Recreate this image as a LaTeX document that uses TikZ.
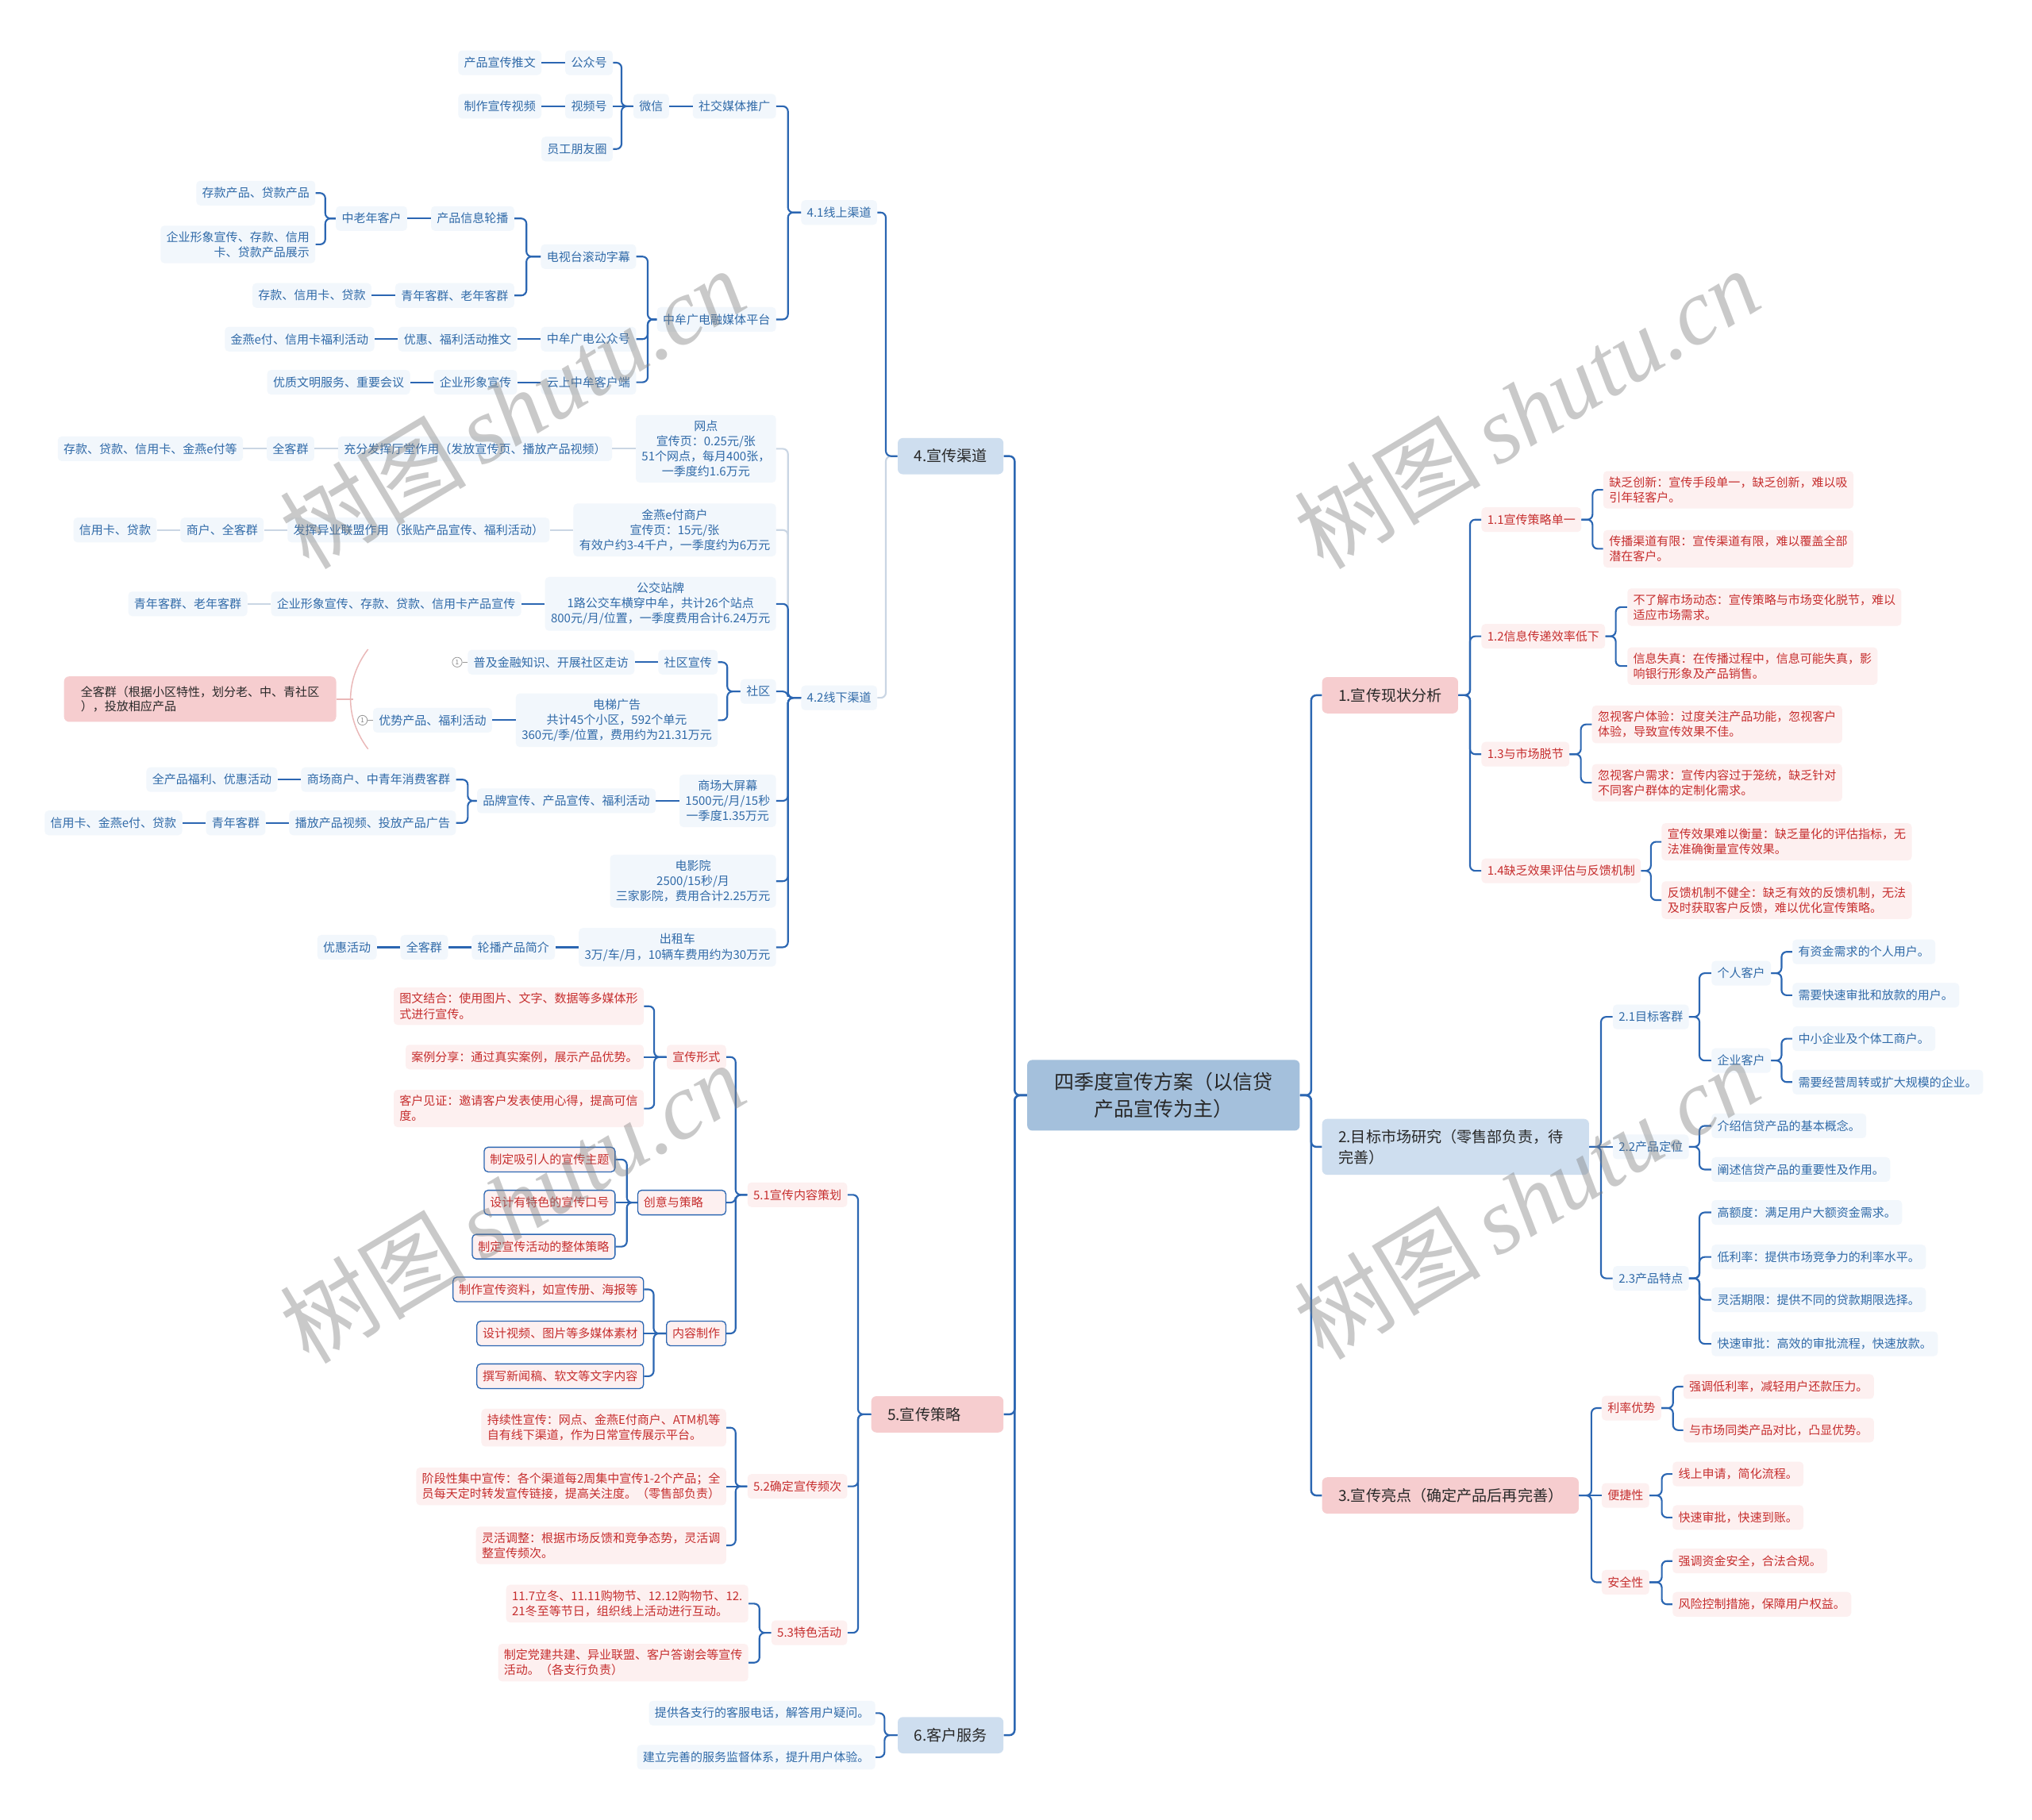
\documentclass[tikz,border=0pt]{standalone}
\usepackage{fontspec}
\setmainfont{Noto Sans CJK SC}
\newfontfamily\wmfont{Liberation Serif}
\usetikzlibrary{positioning}

\definecolor{lnblue}{RGB}{43,102,178}
\definecolor{lnpale}{RGB}{202,214,228}
\definecolor{txblue}{RGB}{48,106,168}
\definecolor{txred}{RGB}{198,46,46}
\definecolor{fiblue}{RGB}{242,247,252}
\definecolor{fired}{RGB}{253,240,240}
\definecolor{lvblue}{RGB}{206,222,239}
\definecolor{lvred}{RGB}{246,205,207}
\definecolor{rootc}{RGB}{164,192,220}
\definecolor{sumln}{RGB}{234,184,184}
\definecolor{txdark}{RGB}{40,40,40}

\tikzset{
  leaf/.style={rounded corners=3pt,inner xsep=4.5pt,inner ysep=4.3pt,
    minimum height=19pt,align=left,font=\fontsize{9.2}{11.7}\selectfont},
  bn/.style={leaf,fill=fiblue,text=txblue},
  rn/.style={leaf,fill=fired,text=txred},
  ro/.style={rn,draw=lnblue,line width=.8pt},
  lvl/.style={rounded corners=4pt,inner xsep=12.5pt,inner ysep=8pt,
    minimum height=28pt,align=left,text=txdark,font=\fontsize{11.7}{16}\selectfont},
  lvb/.style={lvl,fill=lvblue},
  lvr/.style={lvl,fill=lvred},
  topic/.style={rounded corners=4pt,fill=rootc,inner xsep=21pt,inner ysep=9.8pt,
    align=center,text=txdark,font=\fontsize{15.3}{20.4}\selectfont},
  sumbox/.style={rounded corners=4pt,fill=lvred,text=txdark,align=left,
    inner xsep=13pt,inner ysep=7.5pt,font=\fontsize{9.2}{11.2}\selectfont},
  numc/.style={circle,draw=gray!80,line width=.5pt,inner sep=0pt,minimum size=7.5pt,
    text=gray,font=\fontsize{5}{5}\selectfont},
  numl/.style={draw=gray!80,line width=.6pt},
  sumcurve/.style={draw=sumln,line width=.9pt},
  L/.style={anchor=east},
  R/.style={anchor=west},
  br/.style={to path={-- ++(#1,0) |- (\tikztotarget)}},
  ln/.style={draw=lnblue,line width=1.3pt,rounded corners=4pt},
  lp/.style={draw=lnpale,line width=1.3pt,rounded corners=4pt},
  wmark/.style={rotate=31,text=black!50,text opacity=.42,
    font=\fontsize{72}{80}\selectfont}
}

\begin{document}
\begin{tikzpicture}[x=1pt,y=-1pt]
  \fill[white] (0,0) rectangle (1568,1404);
  \useasboundingbox (0,0) rectangle (1568,1404);

  \node[topic] (root) at (897.8,845.2) {四季度宣传方案（以信贷\\产品宣传为主）};

  \node[lvr,R] (n1) at (1020,536.5) {1.宣传现状分析};
  \node[lvb,R,text width=181pt] (n2) at (1020,885) {2.目标市场研究（零售部负责，待\\完善）};
  \node[lvr,R,text width=173pt] (n3) at (1020,1154) {3.宣传亮点（确定产品后再完善）};
  \node[lvb,L] (n4) at (774.5,352) {4.宣传渠道};
  \node[lvr,L,text width=77pt] (n5) at (774.5,1091.4) {5.宣传策略};
  \node[lvb,L] (n6) at (774.5,1339) {6.客户服务};

  \node[bn,L] (n41) at (677,164) {4.1线上渠道};
  \node[bn,L] (n42) at (677,538.5) {4.2线下渠道};
  \node[bn,L] (n411) at (599,82) {社交媒体推广};
  \node[bn,left=18pt of n411] (n4111) {微信};
  \node[bn,L] (n41111) at (473,48.4) {公众号};
  \node[bn,L] (n41112) at (473,82) {视频号};
  \node[bn,L] (n41113) at (473,115) {员工朋友圈};
  \node[bn,left=18pt of n41111] (n411111) {产品宣传推文};
  \node[bn,left=18pt of n41112] (n411121) {制作宣传视频};
  \node[bn,L] (n412) at (599,246.5) {中牟广电融媒体平台};
  \node[bn,L] (n4121) at (491,198) {电视台滚动字幕};
  \node[bn,L] (n4122) at (491,261.7) {中牟广电公众号};
  \node[bn,L] (n4123) at (491,295) {云上中牟客户端};
  \node[bn,L] (n41211) at (397,168.6) {产品信息轮播};
  \node[bn,L] (n41212) at (397,228) {青年客群、老年客群};
  \node[bn,left=18pt of n41211] (n412111) {中老年客户};
  \node[bn,L] (n4121111) at (243.5,149) {存款产品、贷款产品};
  \node[bn,L,align=right] (n4121112) at (243.5,188.6) {企业形象宣传、存款、信用\\卡、贷款产品展示};
  \node[bn,left=18pt of n41212] (n412121) {存款、信用卡、贷款};
  \node[bn,left=18pt of n4122] (n41221) {优惠、福利活动推文};
  \node[bn,left=18pt of n41221] (n412211) {金燕e付、信用卡福利活动};
  \node[bn,left=18pt of n4123] (n41231) {企业形象宣传};
  \node[bn,left=18pt of n41231] (n412311) {优质文明服务、重要会议};

  \node[bn,L,align=center] (n421) at (599,346.3) {网点\\宣传页：0.25元/张\\51个网点，每月400张，\\一季度约1.6万元};
  \node[bn,L,align=center] (n422) at (599,409) {金燕e付商户\\宣传页：15元/张\\有效户约3-4千户，一季度约为6万元};
  \node[bn,L,align=center] (n423) at (599,466) {公交站牌\\1路公交车横穿中牟，共计26个站点\\800元/月/位置，一季度费用合计6.24万元};
  \node[bn,L] (n424) at (599,533.6) {社区};
  \node[bn,L,align=center] (n425) at (599,618) {商场大屏幕\\1500元/月/15秒\\一季度1.35万元};
  \node[bn,L,align=center] (n426) at (599,680) {电影院\\2500/15秒/月\\三家影院，费用合计2.25万元};
  \node[bn,L,align=center] (n427) at (599,731) {出租车\\3万/车/月，10辆车费用约为30万元};
  \node[bn,left=18pt of n421] (n4211) {充分发挥厅堂作用（发放宣传页、播放产品视频）};
  \node[bn,left=18pt of n4211] (n42111) {全客群};
  \node[bn,left=18pt of n42111] (n421111) {存款、贷款、信用卡、金燕e付等};
  \node[bn,left=18pt of n422] (n4221) {发挥异业联盟作用（张贴产品宣传、福利活动）};
  \node[bn,left=18pt of n4221] (n42211) {商户、全客群};
  \node[bn,left=18pt of n42211] (n422111) {信用卡、贷款};
  \node[bn,left=18pt of n423] (n4231) {企业形象宣传、存款、贷款、信用卡产品宣传};
  \node[bn,left=18pt of n4231] (n42311) {青年客群、老年客群};
  \node[bn,L] (n4241) at (554,511) {社区宣传};
  \node[bn,L,align=center] (n4242) at (554,555.8) {电梯广告\\共计45个小区，592个单元\\360元/季/位置，费用约为21.31万元};
  \node[bn,left=18pt of n4241] (n42411) {普及金融知识、开展社区走访};
  \node[bn,left=18pt of n4242] (n42421) {优势产品、福利活动};
  \node[numc,left=4pt of n42411] (m1) {1};
  \node[numc,left=4pt of n42421] (m2) {1};
  \node[sumbox,L] (s1) at (259.6,539.5) {全客群（根据小区特性，划分老、中、青社区\\），投放相应产品};
  \coordinate (bt) at (284,501);
  \coordinate (bm) at (272.5,539.5);
  \coordinate (bb) at (284,578);
  \node[bn,left=18pt of n425] (n4251) {品牌宣传、产品宣传、福利活动};
  \node[bn,L] (n42511) at (352,601.6) {商场商户、中青年消费客群};
  \node[bn,L] (n42512) at (352,635) {播放产品视频、投放产品广告};
  \node[bn,left=18pt of n42511] (n425111) {全产品福利、优惠活动};
  \node[bn,left=18pt of n42512] (n425121) {青年客群};
  \node[bn,left=18pt of n425121] (n4251211) {信用卡、金燕e付、贷款};
  \node[bn,left=18pt of n427] (n4271) {轮播产品简介};
  \node[bn,left=18pt of n4271] (n42711) {全客群};
  \node[bn,left=18pt of n42711] (n427111) {优惠活动};

  \node[rn,L] (n51) at (654,922) {5.1宣传内容策划};
  \node[rn,L] (n52) at (654,1147) {5.2确定宣传频次};
  \node[rn,L] (n53) at (654,1260) {5.3特色活动};
  \node[rn,L] (n511) at (560.5,815.7) {宣传形式};
  \node[ro,L,text width=59pt] (n512) at (560.5,928) {创意与策略};
  \node[ro,L] (n513) at (560.5,1029) {内容制作};
  \node[rn,L] (n5111) at (497,776.5) {图文结合：使用图片、文字、数据等多媒体形\\式进行宣传。};
  \node[rn,L] (n5112) at (497,815.7) {案例分享：通过真实案例，展示产品优势。};
  \node[rn,L] (n5113) at (497,855.4) {客户见证：邀请客户发表使用心得，提高可信\\度。};
  \node[ro,L] (n5121) at (475,894.8) {制定吸引人的宣传主题};
  \node[ro,L] (n5122) at (475,928) {设计有特色的宣传口号};
  \node[ro,L] (n5123) at (475,962) {制定宣传活动的整体策略};
  \node[ro,L] (n5131) at (497,995) {制作宣传资料，如宣传册、海报等};
  \node[ro,L] (n5132) at (497,1029) {设计视频、图片等多媒体素材};
  \node[ro,L] (n5133) at (497,1062) {撰写新闻稿、软文等文字内容};
  \node[rn,L] (n521) at (560.5,1101.7) {持续性宣传：网点、金燕E付商户、ATM机等\\自有线下渠道，作为日常宣传展示平台。};
  \node[rn,L] (n522) at (560.5,1147) {阶段性集中宣传：各个渠道每2周集中宣传1-2个产品；全\\员每天定时转发宣传链接，提高关注度。（零售部负责）};
  \node[rn,L] (n523) at (560.5,1192.5) {灵活调整：根据市场反馈和竞争态势，灵活调\\整宣传频次。};
  \node[rn,L] (n531) at (577.6,1237.5) {11.7立冬、11.11购物节、12.12购物节、12.\\21冬至等节日，组织线上活动进行互动。};
  \node[rn,L] (n532) at (577.6,1283) {制定党建共建、异业联盟、客户答谢会等宣传\\活动。（各支行负责）};
  \node[bn,L] (n61) at (675.6,1322) {提供各支行的客服电话，解答用户疑问。};
  \node[bn,L] (n62) at (675.6,1356) {建立完善的服务监督体系，提升用户体验。};

  \node[rn,R] (n11) at (1143,401) {1.1宣传策略单一};
  \node[rn,R] (n12) at (1143,491) {1.2信息传递效率低下};
  \node[rn,R] (n13) at (1143,582) {1.3与市场脱节};
  \node[rn,R] (n14) at (1143,672) {1.4缺乏效果评估与反馈机制};
  \node[rn,R] (n111) at (1237,378) {缺乏创新：宣传手段单一，缺乏创新，难以吸\\引年轻客户。};
  \node[rn,R] (n112) at (1237,423.5) {传播渠道有限：宣传渠道有限，难以覆盖全部\\潜在客户。};
  \node[rn,R] (n121) at (1255.6,468.5) {不了解市场动态：宣传策略与市场变化脱节，难以\\适应市场需求。};
  \node[rn,R] (n122) at (1255.6,514) {信息失真：在传播过程中，信息可能失真，影\\响银行形象及产品销售。};
  \node[rn,R] (n131) at (1228.3,559) {忽视客户体验：过度关注产品功能，忽视客户\\体验，导致宣传效果不佳。};
  \node[rn,R] (n132) at (1228.3,604) {忽视客户需求：宣传内容过于笼统，缺乏针对\\不同客户群体的定制化需求。};
  \node[rn,R] (n141) at (1282,649.6) {宣传效果难以衡量：缺乏量化的评估指标，无\\法准确衡量宣传效果。};
  \node[rn,R] (n142) at (1282,694.6) {反馈机制不健全：缺乏有效的反馈机制，无法\\及时获取客户反馈，难以优化宣传策略。};

  \node[bn,R] (n21) at (1244.4,784.7) {2.1目标客群};
  \node[bn,R] (n22) at (1244.4,885) {2.2产品定位};
  \node[bn,R] (n23) at (1244.4,986.5) {2.3产品特点};
  \node[bn,R] (n211) at (1320.5,751) {个人客户};
  \node[bn,R] (n212) at (1320.5,818.4) {企业客户};
  \node[bn,R] (n2111) at (1383,734.5) {有资金需求的个人用户。};
  \node[bn,R] (n2112) at (1383,768) {需要快速审批和放款的用户。};
  \node[bn,R] (n2121) at (1383,801.5) {中小企业及个体工商户。};
  \node[bn,R] (n2122) at (1383,835) {需要经营周转或扩大规模的企业。};
  \node[bn,R] (n221) at (1320.5,868.8) {介绍信贷产品的基本概念。};
  \node[bn,R] (n222) at (1320.5,902.5) {阐述信贷产品的重要性及作用。};
  \node[bn,R] (n231) at (1320.5,935.6) {高额度：满足用户大额资金需求。};
  \node[bn,R] (n232) at (1320.5,970) {低利率：提供市场竞争力的利率水平。};
  \node[bn,R] (n233) at (1320.5,1003) {灵活期限：提供不同的贷款期限选择。};
  \node[bn,R] (n234) at (1320.5,1037) {快速审批：高效的审批流程，快速放款。};

  \node[rn,R] (n31) at (1235.8,1086.6) {利率优势};
  \node[rn,R] (n32) at (1235.8,1154) {便捷性};
  \node[rn,R] (n33) at (1235.8,1221) {安全性};
  \node[rn,R] (n311) at (1298.8,1070) {强调低利率，减轻用户还款压力。};
  \node[rn,R] (n312) at (1298.8,1103.6) {与市场同类产品对比，凸显优势。};
  \node[rn,R] (n321) at (1290.5,1137.5) {线上申请，简化流程。};
  \node[rn,R] (n322) at (1290.5,1171) {快速审批，快速到账。};
  \node[rn,R] (n331) at (1290.5,1204.6) {强调资金安全，合法合规。};
  \node[rn,R] (n332) at (1290.5,1238) {风险控制措施，保障用户权益。};

  \path[lp]
    (n4.west) edge[br=-9] (n42.east)
    (n42.west) edge[br=-10] (n421.east) edge[br=-10] (n422.east)
    (n421.west) edge (n4211.east) (n4211.west) edge (n42111.east) (n42111.west) edge (n421111.east)
    (n422.west) edge (n4221.east) (n4221.west) edge (n42211.east) (n42211.west) edge (n422111.east)
    (n4231.west) edge (n42311.east);

  \path[ln,line width=1.5pt]
    (root.west) edge[br=-9.5] (n4.east) edge[br=-9.5] (n5.east) edge[br=-9.5] (n6.east)
    (root.east) edge[br=8.6] (n1.west) edge[br=8.6] (n2.west) edge[br=8.6] (n3.west);

  \path[ln]
    (n4.west) edge[br=-9] (n41.east)
    (n41.west) edge[br=-10] (n411.east) edge[br=-10] (n412.east)
    (n411.west) edge (n4111.east)
    (n4111.west) edge[br=-9] (n41111.east) edge (n41112.east) edge[br=-9] (n41113.east)
    (n41111.west) edge (n411111.east) (n41112.west) edge (n411121.east)
    (n412.west) edge[br=-7] (n4121.east) edge[br=-7] (n4122.east) edge[br=-7] (n4123.east)
    (n4121.west) edge[br=-11] (n41211.east) edge[br=-11] (n41212.east)
    (n41211.west) edge (n412111.east)
    (n412111.west) edge[br=-8] (n4121111.east) edge[br=-8] (n4121112.east)
    (n41212.west) edge (n412121.east)
    (n4122.west) edge (n41221.east) (n41221.west) edge (n412211.east)
    (n4123.west) edge (n41231.east) (n41231.west) edge (n412311.east)
    (n42.west) edge[br=-10] (n423.east) edge[br=-10] (n424.east) edge[br=-10] (n425.east)
      edge[br=-10] (n426.east) edge[br=-10] (n427.east)
    (n423.west) edge (n4231.east)
    (n424.west) edge[br=-10] (n4241.east) edge[br=-10] (n4242.east)
    (n4241.west) edge (n42411.east) (n4242.west) edge (n42421.east)
    (n425.west) edge (n4251.east)
    (n4251.west) edge[br=-7] (n42511.east) edge[br=-7] (n42512.east)
    (n42511.west) edge (n425111.east)
    (n42512.west) edge (n425121.east) (n425121.west) edge (n4251211.east)
    (n427.west) edge (n4271.east) (n4271.west) edge (n42711.east) (n42711.west) edge (n427111.east);

  \path[ln]
    (n5.west) edge[br=-10] (n51.east) edge[br=-10] (n52.east) edge[br=-10] (n53.east)
    (n51.west) edge[br=-9] (n511.east) edge[br=-9] (n512.east) edge[br=-9] (n513.east)
    (n511.west) edge[br=-9.5] (n5111.east) edge (n5112.east) edge[br=-9.5] (n5113.east)
    (n512.west) edge[br=-8] (n5121.east) edge (n5122.east) edge[br=-8] (n5123.east)
    (n513.west) edge[br=-9.5] (n5131.east) edge (n5132.east) edge[br=-9.5] (n5133.east)
    (n52.west) edge[br=-9] (n521.east) edge (n522.east) edge[br=-9] (n523.east)
    (n53.west) edge[br=-9] (n531.east) edge[br=-9] (n532.east)
    (n6.west) edge[br=-10] (n61.east) edge[br=-10] (n62.east);

  \path[ln]
    (n1.east) edge[br=9] (n11.west) edge[br=9] (n12.west) edge[br=9] (n13.west) edge[br=9] (n14.west)
    (n11.east) edge[br=8.5] (n111.west) edge[br=8.5] (n112.west)
    (n12.east) edge[br=8] (n121.west) edge[br=8] (n122.west)
    (n13.east) edge[br=8.7] (n131.west) edge[br=8.7] (n132.west)
    (n14.east) edge[br=7.5] (n141.west) edge[br=7.5] (n142.west)
    (n2.east) edge[br=9] (n21.west) edge (n22.west) edge[br=9] (n23.west)
    (n21.east) edge[br=8] (n211.west) edge[br=8] (n212.west)
    (n211.east) edge[br=8] (n2111.west) edge[br=8] (n2112.west)
    (n212.east) edge[br=8] (n2121.west) edge[br=8] (n2122.west)
    (n22.east) edge[br=8] (n221.west) edge[br=8] (n222.west)
    (n23.east) edge[br=8] (n231.west) edge[br=8] (n232.west) edge[br=8] (n233.west) edge[br=8] (n234.west)
    (n3.east) edge[br=9.6] (n31.west) edge (n32.west) edge[br=9.6] (n33.west)
    (n31.east) edge[br=9] (n311.west) edge[br=9] (n312.west)
    (n32.east) edge[br=9.5] (n321.west) edge[br=9.5] (n322.west)
    (n33.east) edge[br=9.5] (n331.west) edge[br=9.5] (n332.west);

  \path[numl] (m1.east) edge (n42411.west) (m2.east) edge (n42421.west);
  \draw[sumcurve] (bt) .. controls (266,525) and (266,554) .. (bb);
  \draw[sumcurve] (s1.east) -- (bm);

  \foreach \wx/\wy in {395/315,1178/315,395/928,1178/925}
    \node[wmark] at (\wx,\wy) {树图\,{\wmfont\itshape shutu.cn}};
\end{tikzpicture}
\end{document}
